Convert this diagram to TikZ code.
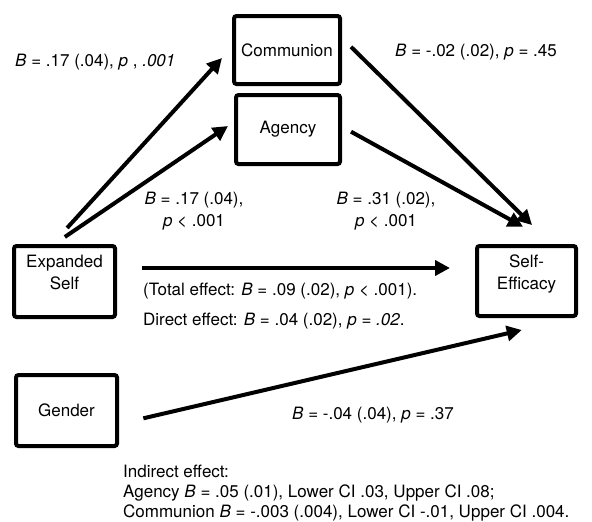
\documentclass[tikz,border=0pt]{standalone}
\usepackage{fontspec}
\setmainfont{TeX Gyre Heros}
\usetikzlibrary{positioning, arrows.meta}
\tikzset{
  varbox/.style={
    rectangle,
    draw=black,
    line width=4pt,
    rounded corners=2.5pt,
    align=center,
    inner sep=0pt
  },
  varname/.style={
    align=center,
    inner sep=0pt
  },
  patharrow/.style={
    -{Triangle[length=15pt,width=15pt]},
    line width=4pt
  },
  coeflabel/.style={
    align=center,
    inner sep=0pt
  }
}

\begin{document}
\begin{tikzpicture}[x=1pt, y=-1pt, font=\fontsize{17}{22}\selectfont]
  \useasboundingbox (0,0) rectangle (592,522);

  % variables
  \node[varbox, minimum width=106pt, minimum height=68pt] (communion) at (287,50) {Communion};
  \node[varbox, minimum width=104pt, minimum height=69pt] (agency) at (288,129.5) {Agency};
  \node[varbox, minimum width=101pt, minimum height=71pt] (expanded) at (64.5,281.5) {};
  \node[varname, anchor=north] (expanded-name) at ([yshift=-11pt]expanded.north) {Expanded\\Self};
  \node[varbox, minimum width=99pt, minimum height=70pt] (selfeff) at (526.5,281) {};
  \node[varname, anchor=north] (selfeff-name) at ([yshift=-11pt]selfeff.north) {Self-\\Efficacy};
  \node[varbox, minimum width=101pt, minimum height=71pt] (gender) at (66.5,410.5) {Gender};

  % paths
  \draw[patharrow, shorten <=21.7pt, shorten >=14.9pt] ([xshift=-12pt]expanded.north) -- ([yshift=3pt]communion.west);
  \draw[patharrow, shorten <=12.5pt, shorten >=7.3pt] ([xshift=-10pt]expanded.north) -- ([yshift=7.6pt]agency.west);
  \draw[patharrow, shorten <=12.6pt, shorten >=27pt] ([yshift=12pt]communion.east) -- ([xshift=24.8pt]selfeff.north);
  \draw[patharrow, shorten <=10.3pt, shorten >=35.8pt] ([yshift=2.8pt]agency.east) -- ([xshift=27.8pt]selfeff.north);
  \draw[patharrow, shorten <=25pt, shorten >=25pt] ([yshift=13.5pt]expanded.east) -- ([yshift=13pt]selfeff.west);
  \draw[patharrow, shorten <=25pt, shorten >=52.8pt] ([yshift=-13.5pt]gender.east) -- ([xshift=46.7pt]selfeff.south);

  % coefficients
  \node[coeflabel, anchor=west] (lab-ec) at (15,62) {\textit{B} = .17 (.04), \textit{p} , \textit{.001}};
  \node[coeflabel] (lab-ea) at (194,211) {\textit{B} = .17 (.04),\\\textit{p} < .001};
  \node[coeflabel, anchor=west] (lab-cs) at (395,52) {\textit{B} = -.02 (.02), \textit{p} = .45};
  \node[coeflabel] (lab-as) at (386,211) {\textit{B} = .31 (.02),\\\textit{p} < .001};
  \node[coeflabel, anchor=base west] (lab-total) at (143,295.5) {(Total effect: \textit{B} = .09 (.02), \textit{p} < .001).};
  \node[coeflabel, anchor=base west] (lab-direct) at (143,325) {Direct effect: \textit{B} = .04 (.02), \textit{p} = \textit{.02}.};
  \node[coeflabel, anchor=west] (lab-gs) at (292,415) {\textit{B} = -.04 (.04), \textit{p} = .37};
  \node[coeflabel, align=left, anchor=north west, font=\fontsize{17}{20}\selectfont] (lab-indirect) at (123,464.5)
    {Indirect effect:\\
     Agency \textit{B} = .05 (.01), Lower CI .03, Upper CI .08;\\
     Communion \textit{B} = -.003 (.004), Lower CI -.01, Upper CI .004.};
\end{tikzpicture}
\end{document}
